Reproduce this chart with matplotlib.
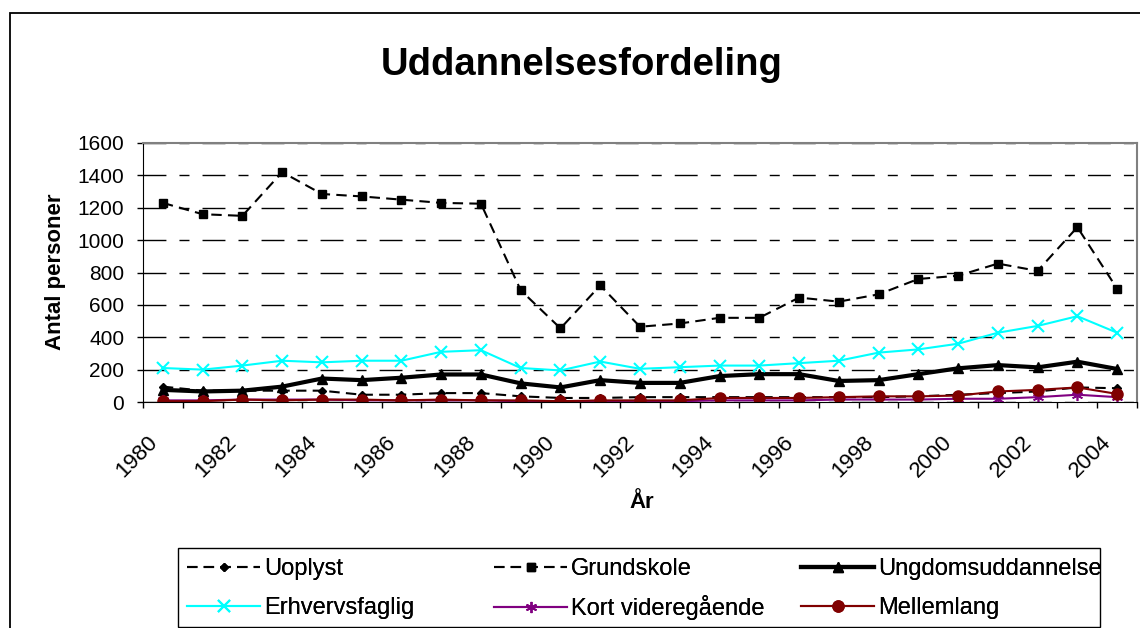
import matplotlib
matplotlib.use('Agg')
import matplotlib.pyplot as plt
from matplotlib.patches import Rectangle

plt.rcParams['font.family'] = ['Liberation Sans', 'DejaVu Sans']

# data
years = list(range(1980, 2005))
uoplyst = [95, 70, 70, 70, 70, 45, 45, 55, 55, 35, 25, 25, 30, 30, 30, 30, 30, 30, 30, 35, 45, 55, 65, 90, 85]
grundskole = [1230, 1160, 1150, 1420, 1285, 1270, 1250, 1230, 1225, 690, 455, 720, 465, 485, 520, 520,
              645, 620, 665, 760, 780, 855, 810, 1080, 700]
ungdom = [75, 65, 70, 95, 145, 135, 150, 170, 170, 115, 90, 135, 118, 118, 160, 172, 172, 130, 135, 172,
          208, 228, 214, 249, 204]
erhverv = [210, 200, 225, 255, 245, 255, 255, 310, 320, 210, 195, 250, 205, 215, 225, 225, 240, 255, 305,
           325, 360, 428, 470, 530, 428]
kort = [10, 10, 15, 15, 15, 10, 10, 10, 10, 5, 5, 5, 5, 5, 10, 10, 10, 15, 15, 15, 20, 20, 30, 45, 30]
mellem = [5, 5, 15, 10, 15, 15, 10, 15, 10, 10, 5, 10, 10, 10, 25, 25, 25, 30, 35, 35, 40, 65, 75, 90, 50]

fig = plt.figure(figsize=(11.4, 6.28), dpi=100)
ax = fig.add_axes([143/1140, 1-402/628, (1137-143)/1140, (402-143)/628])

x = list(range(len(years)))
l1, = ax.plot(x, uoplyst, color='black', lw=1.5, dashes=(5, 3), marker='D', ms=4.5, label='Uoplyst')
l2, = ax.plot(x, grundskole, color='black', lw=1.5, dashes=(5, 3), marker='s', ms=5.5, label='Grundskole')
l3, = ax.plot(x, ungdom, color='black', lw=3, marker='^', ms=6.5, label='Ungdomsuddannelse')
l4, = ax.plot(x, erhverv, color='#00FFFF', lw=1.5, marker='x', ms=9, mew=1.5, label='Erhvervsfaglig')
l5, = ax.plot(x, kort, color='#800080', lw=1.5, marker=(6, 2, 0), ms=8, mew=1.2, label='Kort videregående')
l6, = ax.plot(x, mellem, color='#800000', lw=1.5, marker='o', ms=8, label='Mellemlang')

ax.set_xlim(-0.5, len(years) - 0.5)
ax.set_ylim(0, 1600)
ax.set_yticks(range(0, 1601, 200))
ax.tick_params(axis='y', direction='out', length=4.5, width=1, pad=9, labelsize=15)

# ticks at category boundaries, labels every 2nd year (nudged a bit left like Excel)
ax.set_xticks([i - 0.5 for i in range(len(years) + 1)])
ax.set_xticklabels([])
ax.tick_params(axis='x', which='major', direction='out', length=4.5, width=1)
ax.set_xticks([i - 0.22 for i in x[::2]], minor=True)
ax.set_xticklabels([str(y) for y in years[::2]], minor=True, fontsize=16)
ax.tick_params(axis='x', which='minor', length=0, pad=27)
for lab in ax.get_xticklabels(minor=True):
    lab.set_rotation(45)
    lab.set_ha('right')
    lab.set_va('center')
    lab.set_rotation_mode('anchor')

ax.set_axisbelow(True)
ax.yaxis.grid(True, color='black', lw=1, linestyle=(0, (16.5, 9.4, 7.2, 9.4)))
ax.spines['top'].set_color('#808080')
ax.spines['right'].set_color('#808080')
ax.spines['top'].set_linewidth(1.5)
ax.spines['right'].set_linewidth(1.5)

fig.text(582/1140, 1-75/628, 'Uddannelsesfordeling', fontsize=27.5, fontweight='bold',
         ha='center', va='baseline')
fig.text(55/1140, 1-272/628, 'Antal personer', fontsize=16, fontweight='bold',
         rotation=90, ha='center', va='center')
fig.text(642/1140, 1-503/628, 'År', fontsize=16, fontweight='bold', ha='center', va='center')

# legend: one small legend per entry so the 3x2 grid lines up like the original
handles = [l1, l2, l3, l4, l5, l6]
col_x = [187, 494, 801]
row_y = [569, 608]
for k, h in enumerate(handles):
    lg = fig.legend([h], [h.get_label()], loc='center left',
                    bbox_to_anchor=(col_x[k % 3]/1140, 1 - row_y[k // 3]/628),
                    fontsize=17, frameon=False, handlelength=3.1, handletextpad=0.15,
                    borderpad=0, borderaxespad=0)
    fig.add_artist(lg)
fig.patches.append(Rectangle((178/1140, 1-627/628), (1100-178)/1140, (627-548)/628,
                             transform=fig.transFigure, fill=False, lw=1, edgecolor='black'))

# outer chart border (cut by the image edge on right and bottom)
fig.patches.append(Rectangle((10/1140, -0.1), 1.2, 1.1 - 13/628, transform=fig.transFigure,
                             fill=False, lw=1.3, edgecolor='black'))

fig.savefig('out.png', dpi=100)
